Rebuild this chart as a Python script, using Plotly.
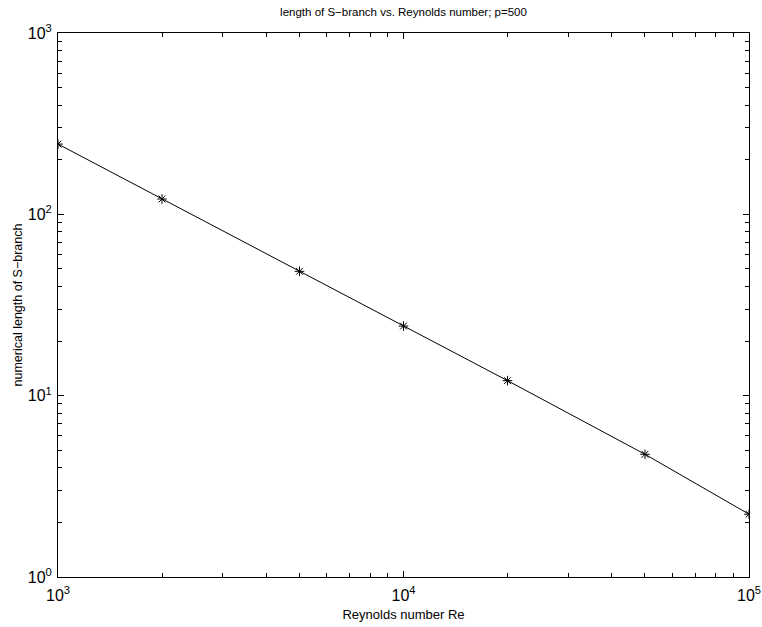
import plotly.graph_objects as go

reynolds = [1000, 2000, 5000, 10000, 20000, 50000, 100000]
s_length = [244, 121.5, 48.5, 24.2, 12.1, 4.75, 2.22]

x_tick_vals = [1000, 10000, 100000]
x_tick_text = ["10<sup>3</sup>", "10<sup>4</sup>", "10<sup>5</sup>"]
y_tick_vals = [1, 10, 100, 1000]
y_tick_text = ["10<sup>0</sup>", "10<sup>1</sup>", "10<sup>2</sup>", "10<sup>3</sup>"]

title_text = "length of S\u2212branch vs. Reynolds number; p=500"
x_label = "Reynolds number Re"
y_label = "numerical length of S\u2212branch"

fig = go.Figure()
fig.add_trace(go.Scatter(
    x=reynolds, y=s_length, mode="lines+markers",
    line=dict(color="black", width=1),
    marker=dict(symbol="asterisk-open", size=8, color="black",
                line=dict(color="black", width=1)),
    showlegend=False,
))

font_family = "Liberation Sans, Arial, Helvetica, sans-serif"
axis_common = dict(
    type="log", automargin=False,
    showline=True, linecolor="black", linewidth=1, mirror="allticks",
    ticks="inside", ticklen=6, tickcolor="black", tickwidth=1,
    minor=dict(ticks="inside", ticklen=4, tickcolor="black", showgrid=False,
               dtick="D1"),
    showgrid=False, zeroline=False,
    tickfont=dict(family=font_family, size=16, color="black"),
)

fig.update_layout(
    width=762, height=627,
    margin=dict(l=58, r=13, t=33, b=50),
    paper_bgcolor="white", plot_bgcolor="white",
    font=dict(family=font_family, size=12, color="black"),
    title=dict(text=title_text, x=0.5, xref="paper", xanchor="center",
               y=1 - 12 / 627, yanchor="middle",
               font=dict(family=font_family, size=11.5, color="black")),
    xaxis=dict(range=[3, 5], tickvals=x_tick_vals, ticktext=x_tick_text,
               ticklabelstandoff=4,
               title=dict(text=x_label, standoff=6,
                          font=dict(family=font_family, size=13)), **axis_common),
    yaxis=dict(range=[0, 3], tickvals=y_tick_vals, ticktext=y_tick_text,
               ticklabelstandoff=2,
               title=dict(text=y_label, standoff=2,
                          font=dict(family=font_family, size=12.5)), **axis_common),
)

fig.write_html("out.html")
